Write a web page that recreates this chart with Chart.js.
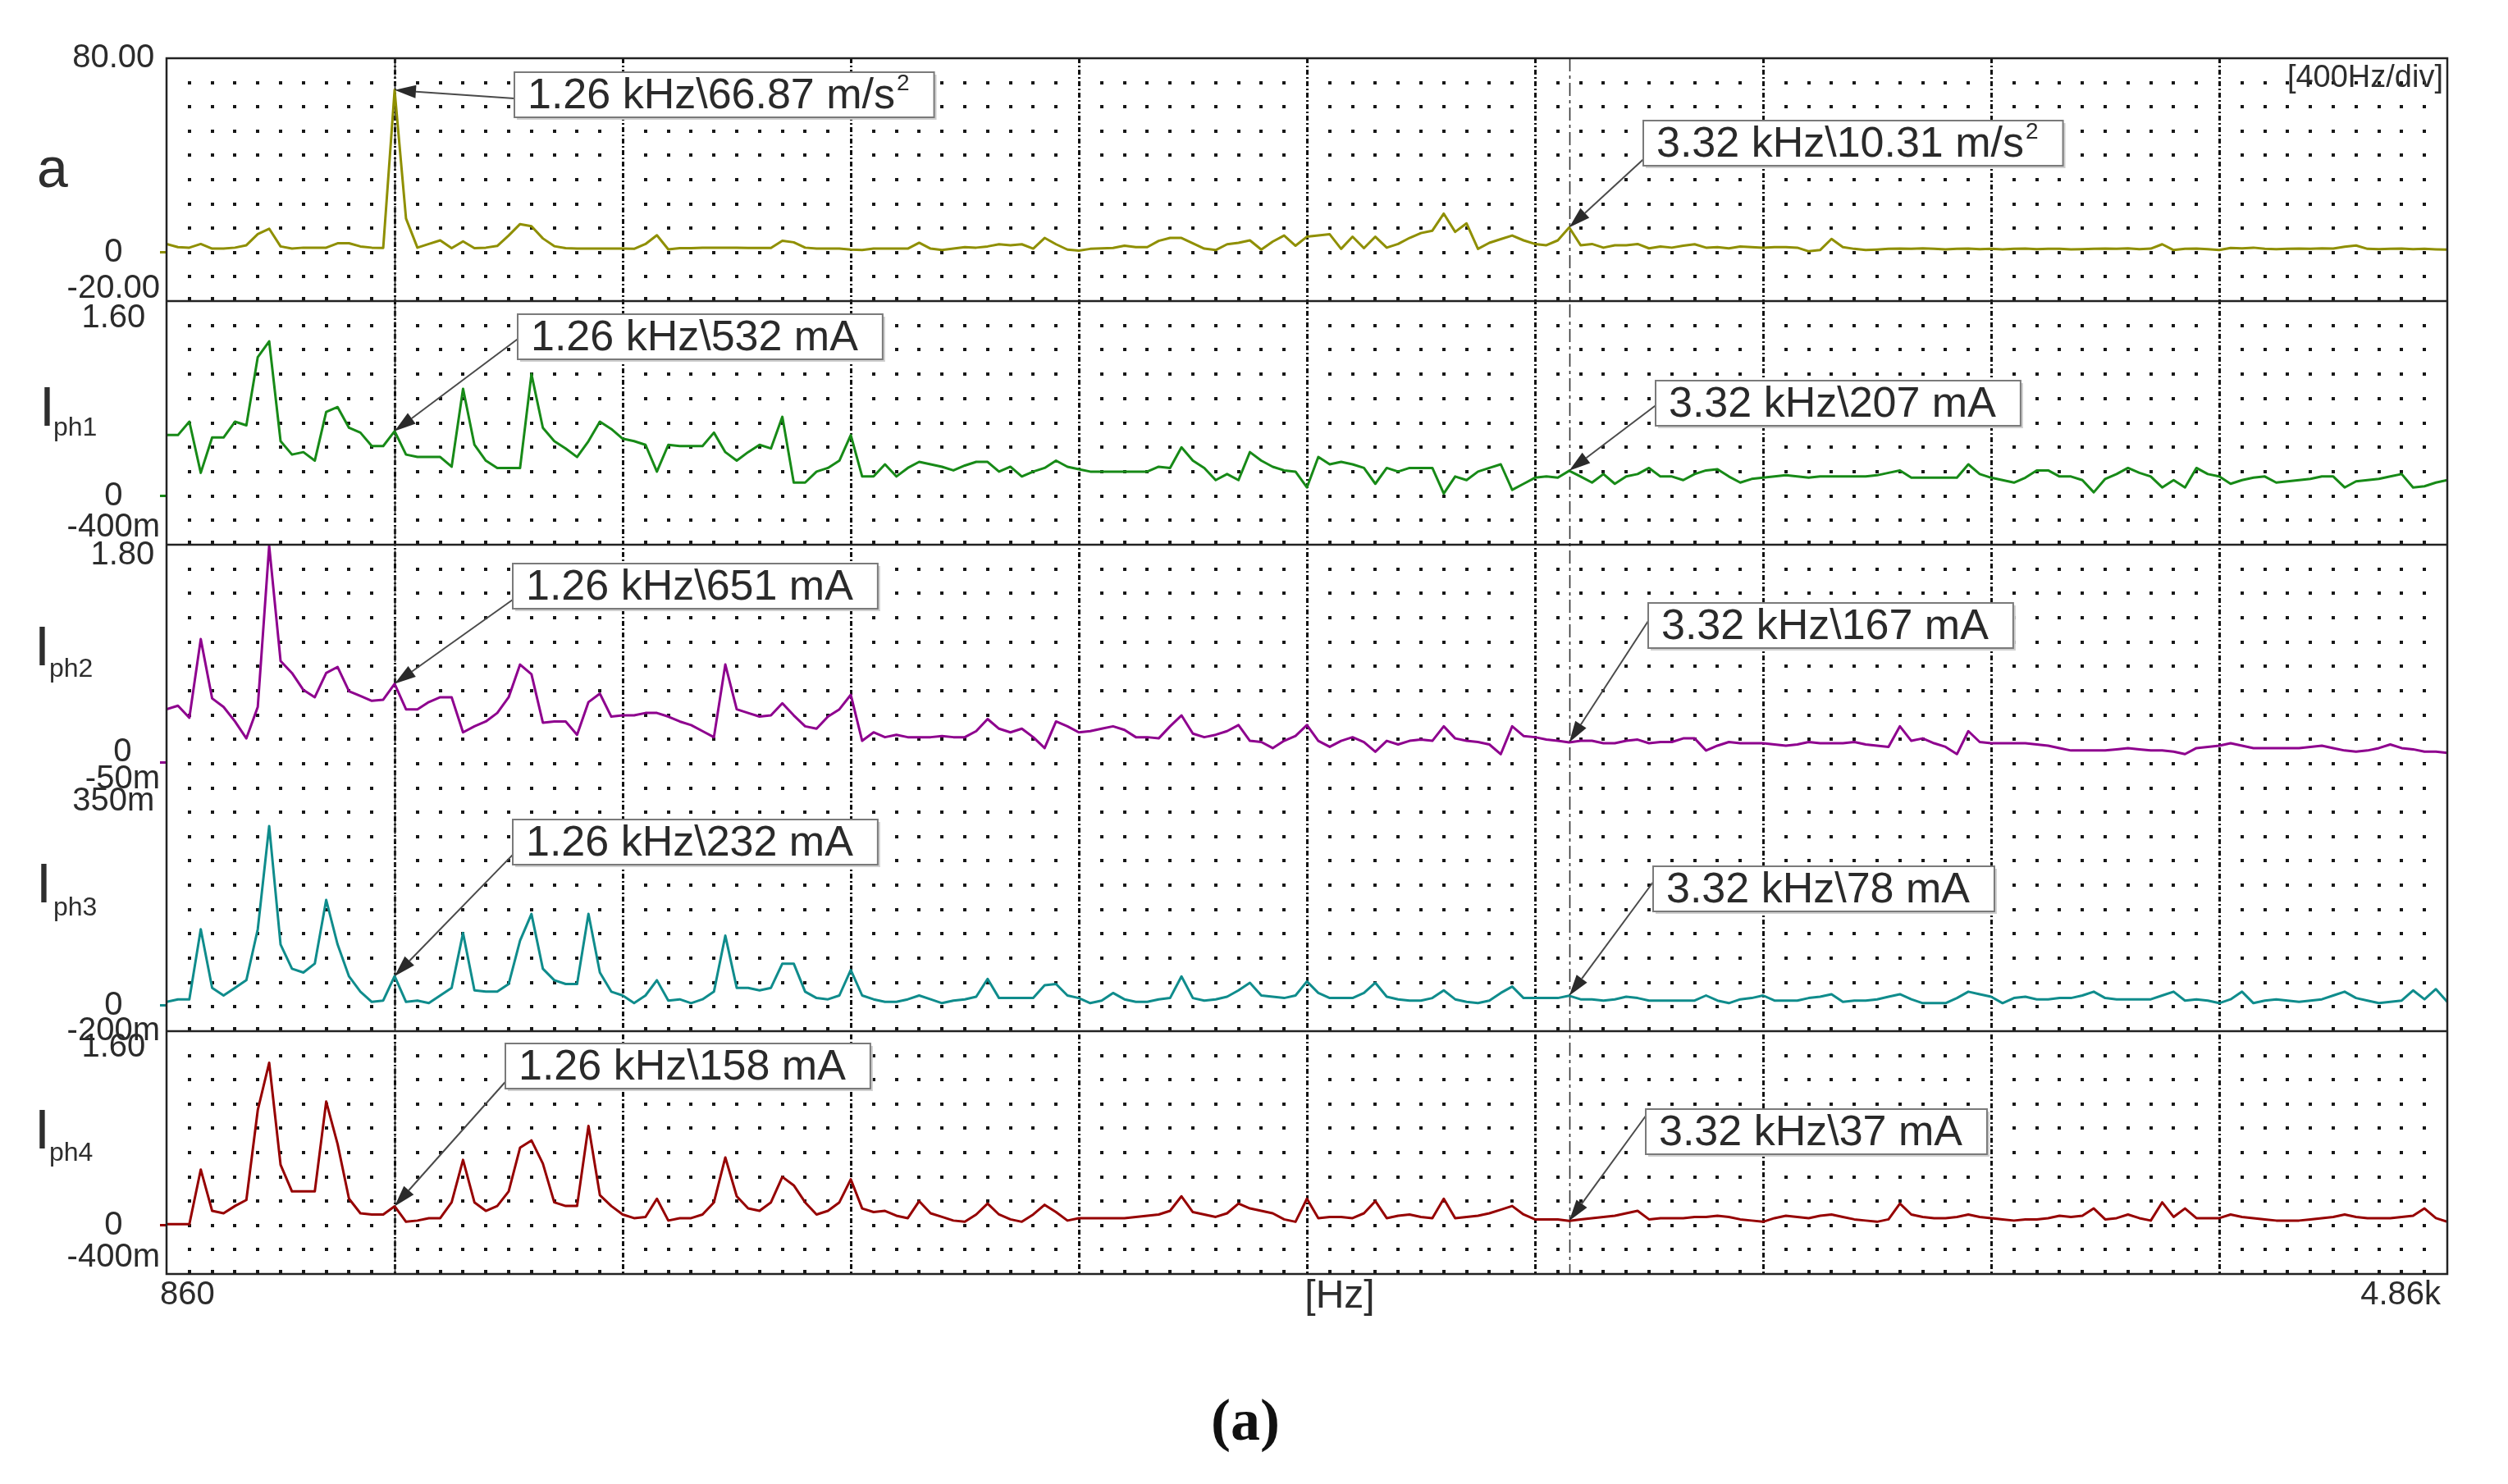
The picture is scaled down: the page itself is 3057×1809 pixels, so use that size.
<!DOCTYPE html>
<html>
<head>
<meta charset="utf-8">
<title>Espectro a, Iph1-Iph4</title>
<script src="https://cdn.jsdelivr.net/npm/chart.js"></script>
<style>
  html, body { margin: 0; padding: 0; background: #fff; }
  #scope { display: block; }
</style>
</head>
<body>
<canvas id="scope" width="3057" height="1809"></canvas>
<script>
// Frecuencias del espectro (pasos de 20 Hz)
const freqHz = [
  860, 880, 900, 920, 940, 960, 980, 1000, 1020, 1040,
  1060, 1080, 1100, 1120, 1140, 1160, 1180, 1200, 1220, 1240,
  1260, 1280, 1300, 1320, 1340, 1360, 1380, 1400, 1420, 1440,
  1460, 1480, 1500, 1520, 1540, 1560, 1580, 1600, 1620, 1640,
  1660, 1680, 1700, 1720, 1740, 1760, 1780, 1800, 1820, 1840,
  1860, 1880, 1900, 1920, 1940, 1960, 1980, 2000, 2020, 2040,
  2060, 2080, 2100, 2120, 2140, 2160, 2180, 2200, 2220, 2240,
  2260, 2280, 2300, 2320, 2340, 2360, 2380, 2400, 2420, 2440,
  2460, 2480, 2500, 2520, 2540, 2560, 2580, 2600, 2620, 2640,
  2660, 2680, 2700, 2720, 2740, 2760, 2780, 2800, 2820, 2840,
  2860, 2880, 2900, 2920, 2940, 2960, 2980, 3000, 3020, 3040,
  3060, 3080, 3100, 3120, 3140, 3160, 3180, 3200, 3220, 3240,
  3260, 3280, 3300, 3320, 3340, 3360, 3380, 3400, 3420, 3440,
  3460, 3480, 3500, 3520, 3540, 3560, 3580, 3600, 3620, 3640,
  3660, 3680, 3700, 3720, 3740, 3760, 3780, 3800, 3820, 3840,
  3860, 3880, 3900, 3920, 3940, 3960, 3980, 4000, 4020, 4040,
  4060, 4080, 4100, 4120, 4140, 4160, 4180, 4200, 4220, 4240,
  4260, 4280, 4300, 4320, 4340, 4360, 4380, 4400, 4420, 4440,
  4460, 4480, 4500, 4520, 4540, 4560, 4580, 4600, 4620, 4640,
  4660, 4680, 4700, 4720, 4740, 4760, 4780, 4800, 4820, 4840,
  4860
];

// Aceleracion a [m/s2]
const accel = [
  3.5, 2.2, 2.0, 3.5, 1.6, 1.6, 2.0, 3.0, 7.6, 9.8,
  2.5, 1.6, 2.0, 2.0, 2.0, 3.8, 3.8, 2.5, 2.0, 1.9,
  66.87, 14.0, 2.0, 3.5, 5.0, 1.8, 4.6, 1.8, 2.0, 2.7,
  7.0, 11.7, 10.8, 5.8, 2.6, 1.8, 1.6, 1.6, 1.6, 1.6,
  1.6, 1.5, 3.5, 7.1, 1.3, 1.8, 1.8, 2.0, 2.0, 2.0,
  2.0, 1.9, 1.9, 1.9, 4.8, 4.2, 2.0, 1.6, 1.6, 1.6,
  1.2, 1.0, 1.6, 1.6, 1.6, 1.6, 4.0, 1.6, 1.0, 1.6,
  2.2, 2.0, 2.5, 3.4, 3.0, 3.4, 1.6, 6.0, 3.4, 1.2,
  0.8, 1.5, 1.7, 1.9, 2.8, 2.2, 2.2, 4.8, 6.0, 6.0,
  3.8, 1.6, 1.0, 3.4, 4.0, 5.0, 1.2, 4.5, 7.0, 2.8,
  6.5, 7.0, 7.5, 1.5, 6.5, 1.8, 6.5, 2.0, 3.5, 6.0,
  8.0, 9.0, 16.0, 8.5, 12.0, 1.5, 4.0, 5.5, 7.0, 5.0,
  3.5, 3.0, 5.0, 10.31, 3.0, 3.5, 2.0, 3.0, 3.0, 3.5,
  1.7, 2.5, 2.0, 2.8, 3.4, 2.0, 2.2, 1.7, 2.5, 2.2,
  2.0, 2.2, 2.2, 2.0, 0.5, 1.0, 5.6, 2.2, 1.5, 1.0,
  1.2, 1.5, 1.6, 1.5, 1.7, 1.5, 1.3, 1.5, 1.6, 1.4,
  1.5, 1.3, 1.5, 1.6, 1.4, 1.5, 1.5, 1.3, 1.4, 1.5,
  1.6, 1.5, 1.7, 1.4, 1.6, 3.4, 1.0, 1.5, 1.6, 1.4,
  1.0, 1.9, 1.7, 2.0, 1.5, 1.4, 1.5, 1.6, 1.5, 1.7,
  1.6, 2.4, 2.9, 1.5, 1.4, 1.5, 1.6, 1.4, 1.5, 1.3,
  1.2
];

// Corrientes de fase [A]
const iph1 = [
  0.50, 0.50, 0.61, 0.19, 0.48, 0.48, 0.61, 0.58, 1.14, 1.27,
  0.45, 0.34, 0.36, 0.29, 0.69, 0.73, 0.56, 0.52, 0.41, 0.41,
  0.532, 0.34, 0.32, 0.32, 0.32, 0.24, 0.88, 0.42, 0.29, 0.23,
  0.23, 0.23, 1.00, 0.56, 0.45, 0.39, 0.32, 0.45, 0.61, 0.55,
  0.47, 0.45, 0.42, 0.20, 0.42, 0.41, 0.41, 0.41, 0.52, 0.36,
  0.29, 0.36, 0.42, 0.39, 0.65, 0.11, 0.11, 0.20, 0.23, 0.29,
  0.50, 0.16, 0.16, 0.26, 0.16, 0.23, 0.28, 0.26, 0.24, 0.21,
  0.25, 0.28, 0.28, 0.20, 0.24, 0.16, 0.20, 0.23, 0.29, 0.24,
  0.22, 0.20, 0.20, 0.20, 0.20, 0.20, 0.20, 0.24, 0.23, 0.40,
  0.29, 0.23, 0.13, 0.18, 0.13, 0.36, 0.29, 0.24, 0.21, 0.20,
  0.07, 0.32, 0.26, 0.28, 0.26, 0.23, 0.10, 0.23, 0.20, 0.23,
  0.23, 0.23, 0.02, 0.16, 0.13, 0.20, 0.23, 0.26, 0.05, 0.10,
  0.15, 0.16, 0.15, 0.207, 0.16, 0.11, 0.18, 0.10, 0.16, 0.18,
  0.23, 0.16, 0.16, 0.13, 0.18, 0.21, 0.22, 0.16, 0.11, 0.14,
  0.15, 0.16, 0.17, 0.16, 0.15, 0.16, 0.16, 0.16, 0.16, 0.16,
  0.17, 0.19, 0.21, 0.15, 0.15, 0.15, 0.15, 0.15, 0.26, 0.18,
  0.15, 0.13, 0.11, 0.15, 0.21, 0.21, 0.16, 0.16, 0.13, 0.03,
  0.14, 0.18, 0.23, 0.19, 0.16, 0.07, 0.13, 0.07, 0.23, 0.18,
  0.16, 0.10, 0.13, 0.15, 0.16, 0.11, 0.12, 0.13, 0.14, 0.16,
  0.16, 0.07, 0.12, 0.13, 0.14, 0.16, 0.18, 0.07, 0.08, 0.11,
  0.13
];

const iph2 = [
  0.44, 0.47, 0.37, 1.02, 0.53, 0.46, 0.34, 0.20, 0.46, 1.79,
  0.84, 0.74, 0.60, 0.54, 0.74, 0.79, 0.59, 0.55, 0.51, 0.52,
  0.651, 0.44, 0.44, 0.50, 0.54, 0.54, 0.25, 0.30, 0.34, 0.41,
  0.54, 0.81, 0.73, 0.33, 0.34, 0.34, 0.23, 0.50, 0.57, 0.38,
  0.39, 0.39, 0.41, 0.41, 0.38, 0.34, 0.31, 0.26, 0.21, 0.81,
  0.44, 0.41, 0.38, 0.39, 0.49, 0.39, 0.30, 0.28, 0.38, 0.44,
  0.56, 0.18, 0.25, 0.21, 0.23, 0.21, 0.21, 0.21, 0.22, 0.21,
  0.21, 0.26, 0.36, 0.28, 0.25, 0.28, 0.21, 0.12, 0.34, 0.30,
  0.25, 0.26, 0.28, 0.30, 0.27, 0.21, 0.21, 0.20, 0.30, 0.39,
  0.24, 0.21, 0.23, 0.26, 0.31, 0.18, 0.17, 0.12, 0.18, 0.22,
  0.31, 0.18, 0.13, 0.18, 0.21, 0.17, 0.09, 0.18, 0.15, 0.18,
  0.19, 0.18, 0.30, 0.20, 0.18, 0.17, 0.15, 0.07, 0.30, 0.22,
  0.21, 0.19, 0.18, 0.167, 0.18, 0.18, 0.16, 0.16, 0.18, 0.19,
  0.16, 0.17, 0.17, 0.20, 0.20, 0.10, 0.14, 0.17, 0.16, 0.16,
  0.16, 0.15, 0.14, 0.15, 0.17, 0.16, 0.16, 0.16, 0.17, 0.15,
  0.14, 0.13, 0.30, 0.18, 0.20, 0.16, 0.13, 0.07, 0.26, 0.17,
  0.16, 0.16, 0.16, 0.16, 0.15, 0.14, 0.12, 0.10, 0.10, 0.10,
  0.10, 0.11, 0.12, 0.11, 0.10, 0.10, 0.09, 0.07, 0.12, 0.13,
  0.14, 0.16, 0.14, 0.12, 0.12, 0.12, 0.12, 0.12, 0.13, 0.14,
  0.12, 0.10, 0.09, 0.10, 0.12, 0.15, 0.12, 0.11, 0.09, 0.09,
  0.08
];

const iph3 = [
  0.03, 0.05, 0.05, 0.60, 0.14, 0.08, 0.14, 0.20, 0.60, 1.41,
  0.48, 0.29, 0.26, 0.33, 0.83, 0.48, 0.23, 0.11, 0.03, 0.04,
  0.232, 0.03, 0.04, 0.02, 0.08, 0.14, 0.57, 0.12, 0.11, 0.11,
  0.17, 0.51, 0.72, 0.29, 0.20, 0.17, 0.17, 0.72, 0.26, 0.11,
  0.08, 0.02, 0.08, 0.20, 0.04, 0.05, 0.02, 0.05, 0.11, 0.55,
  0.14, 0.14, 0.12, 0.14, 0.33, 0.33, 0.11, 0.06, 0.05, 0.08,
  0.28, 0.08, 0.05, 0.03, 0.03, 0.05, 0.08, 0.05, 0.02, 0.04,
  0.05, 0.07, 0.21, 0.06, 0.06, 0.06, 0.06, 0.16, 0.17, 0.08,
  0.06, 0.02, 0.04, 0.10, 0.05, 0.03, 0.03, 0.05, 0.06, 0.23,
  0.06, 0.04, 0.05, 0.07, 0.12, 0.18, 0.08, 0.07, 0.06, 0.08,
  0.19, 0.10, 0.06, 0.06, 0.06, 0.10, 0.18, 0.07, 0.05, 0.04,
  0.04, 0.06, 0.12, 0.05, 0.03, 0.02, 0.04, 0.10, 0.15, 0.06,
  0.06, 0.06, 0.06, 0.078, 0.05, 0.05, 0.04, 0.05, 0.07, 0.06,
  0.04, 0.04, 0.04, 0.04, 0.04, 0.08, 0.04, 0.02, 0.05, 0.06,
  0.08, 0.04, 0.04, 0.04, 0.06, 0.07, 0.09, 0.03, 0.04, 0.04,
  0.05, 0.07, 0.09, 0.05, 0.02, 0.02, 0.02, 0.06, 0.11, 0.09,
  0.07, 0.02, 0.06, 0.07, 0.05, 0.05, 0.06, 0.06, 0.08, 0.11,
  0.06, 0.05, 0.05, 0.05, 0.05, 0.08, 0.11, 0.04, 0.05, 0.04,
  0.02, 0.05, 0.11, 0.02, 0.04, 0.05, 0.04, 0.03, 0.04, 0.05,
  0.08, 0.11, 0.06, 0.04, 0.02, 0.03, 0.04, 0.12, 0.05, 0.13,
  0.03
];

const iph4 = [
  0.01, 0.01, 0.01, 0.46, 0.12, 0.10, 0.16, 0.21, 0.95, 1.34,
  0.50, 0.28, 0.28, 0.28, 1.02, 0.67, 0.22, 0.10, 0.09, 0.09,
  0.158, 0.03, 0.04, 0.06, 0.06, 0.19, 0.54, 0.19, 0.12, 0.16,
  0.28, 0.64, 0.70, 0.51, 0.19, 0.16, 0.16, 0.82, 0.25, 0.16,
  0.09, 0.06, 0.07, 0.22, 0.04, 0.06, 0.06, 0.09, 0.19, 0.56,
  0.24, 0.14, 0.12, 0.19, 0.40, 0.33, 0.19, 0.09, 0.12, 0.19,
  0.38, 0.14, 0.11, 0.12, 0.08, 0.06, 0.20, 0.10, 0.07, 0.04,
  0.03, 0.09, 0.18, 0.09, 0.05, 0.03, 0.09, 0.17, 0.11, 0.04,
  0.06, 0.06, 0.06, 0.06, 0.06, 0.07, 0.08, 0.09, 0.12, 0.24,
  0.11, 0.09, 0.07, 0.10, 0.18, 0.14, 0.12, 0.10, 0.05, 0.03,
  0.22, 0.06, 0.07, 0.07, 0.06, 0.10, 0.20, 0.06, 0.08, 0.09,
  0.07, 0.06, 0.22, 0.06, 0.07, 0.08, 0.10, 0.13, 0.16, 0.09,
  0.05, 0.05, 0.05, 0.037, 0.05, 0.06, 0.07, 0.08, 0.10, 0.12,
  0.05, 0.06, 0.06, 0.06, 0.07, 0.07, 0.08, 0.07, 0.05, 0.04,
  0.03, 0.06, 0.08, 0.07, 0.06, 0.08, 0.09, 0.07, 0.05, 0.04,
  0.03, 0.05, 0.18, 0.09, 0.07, 0.06, 0.06, 0.07, 0.09, 0.07,
  0.06, 0.05, 0.04, 0.05, 0.05, 0.06, 0.08, 0.07, 0.08, 0.14,
  0.05, 0.06, 0.09, 0.06, 0.04, 0.19, 0.07, 0.14, 0.06, 0.06,
  0.06, 0.09, 0.07, 0.06, 0.05, 0.04, 0.04, 0.04, 0.05, 0.06,
  0.07, 0.09, 0.07, 0.06, 0.06, 0.06, 0.07, 0.08, 0.14, 0.06,
  0.03
];

// Cursores y sus lecturas
const cursorHz = [1260, 3320];
const cursorText = [
  ['1.26 kHz\\66.87 m/s', '3.32 kHz\\10.31 m/s'],
  ['1.26 kHz\\532 mA', '3.32 kHz\\207 mA'],
  ['1.26 kHz\\651 mA', '3.32 kHz\\167 mA'],
  ['1.26 kHz\\232 mA', '3.32 kHz\\78 mA'],
  ['1.26 kHz\\158 mA', '3.32 kHz\\37 mA']
];
const cursorSup = ['2', '', '', '', ''];
const cursorVal = [[66.87, 10.31], [0.532, 0.207], [0.651, 0.167], [0.232, 0.078], [0.158, 0.037]];

// Etiquetas de los ejes tal como las imprime el equipo
const accelTicks = [-20, 0, 80];
const accelTickText = ['-20.00', '0', '80.00'];
const iph1Ticks = [-0.4, 0, 1.6];
const iph1TickText = ['-400m', '0', '1.60'];
const iph2Ticks = [-0.05, 0, 1.8];
const iph2TickText = ['-50m', '0', '1.80'];
const iph3Ticks = [-0.2, 0, 1.86];
const iph3TickText = ['-200m', '0', '350m'];
const iph4Ticks = [-0.4, 0, 1.6];
const iph4TickText = ['-400m', '0', '1.60'];
const xTicks = [860, 4860];
const xTickText = ['860', '4.86k'];

const FONT = '"Liberation Sans", Arial, sans-serif';
Chart.defaults.font.family = FONT;

const channels = [
  { name: 'a', sub: '', data: accel, axis: 'yA', color: '#8f8f00' },
  { name: 'I', sub: 'ph1', data: iph1, axis: 'yI1', color: '#178a17' },
  { name: 'I', sub: 'ph2', data: iph2, axis: 'yI2', color: '#8e008e' },
  { name: 'I', sub: 'ph3', data: iph3, axis: 'yI3', color: '#0f8c8c' },
  { name: 'I', sub: 'ph4', data: iph4, axis: 'yI4', color: '#960000' }
];

// Un eje y apilado por canal
function channelAxis(ticks, texts, place, lineH, color, stackWeight, weight) {
  return {
    type: 'linear',
    position: 'left',
    stack: 'scope',
    stackWeight: stackWeight,
    weight: weight,
    min: ticks[0],
    max: ticks[ticks.length - 1],
    afterBuildTicks: s => { s.ticks = ticks.map(v => ({ value: v })); },
    afterFit: s => {
      s.width = 140;
      s.paddingTop = 0;
      s.paddingBottom = 0;
    },
    border: { display: false },
    grid: {
      drawOnChartArea: false,
      drawTicks: true,
      tickLength: 8,
      tickWidth: 3,
      tickColor: c => (c.tick && c.tick.value === 0) ? color : 'rgba(0,0,0,0)'
    },
    ticks: {
      autoSkip: false,
      padding: 0,
      crossAlign: 'center',
      color: '#2b2b2b',
      font: { size: 40, lineHeight: lineH + 'px' },
      callback: (v, i) => {
        const t = texts[i];
        if (place[i] === 'down') return ['', t];
        if (place[i] === 'down2') return ['', '', t];
        if (place[i] === 'up') return [t, ''];
        return t;
      }
    }
  };
}

// Posicion de las cajas de los cursores [izq, arriba, salida de la flecha]
const calloutBox = [
  [[627, 88, 0.58], [2003, 147, 0.86]],
  [[631, 383, 0.55], [2018, 464, 0.55]],
  [[625, 687, 0.80], [2009, 735, 0.40]],
  [[625, 999, 0.78], [2015, 1056, 0.35]],
  [[616, 1272, 0.85], [2006, 1352, 0.15]]
];
const titleSpot = [[45, 228], [48, 519, 65, 531], [42, 811, 60, 825], [44, 1100, 65, 1116], [42, 1400, 60, 1415]];

function drawArrow(ctx, x0, y0, x1, y1) {
  const ang = Math.atan2(y1 - y0, x1 - x0);
  const len = 26, half = 8;
  const bx = x1 - len * Math.cos(ang), by = y1 - len * Math.sin(ang);
  ctx.strokeStyle = '#4a4a4a';
  ctx.lineWidth = 2;
  ctx.beginPath();
  ctx.moveTo(x0, y0);
  ctx.lineTo(bx, by);
  ctx.stroke();
  ctx.fillStyle = '#2a2a2a';
  ctx.beginPath();
  ctx.moveTo(x1, y1);
  ctx.lineTo(bx + half * Math.sin(ang), by - half * Math.cos(ang));
  ctx.lineTo(bx - half * Math.sin(ang), by + half * Math.cos(ang));
  ctx.closePath();
  ctx.fill();
}

const scopeDecor = {
  id: 'scopeDecor',
  beforeDatasetsDraw(chart) {
    const { ctx, chartArea: area, scales } = chart;
    const x = scales.x;
    const boxes = [
      [scales.yA.top, scales.yA.bottom, 10],
      [scales.yI1.top, scales.yI1.bottom, 10],
      [scales.yI2.top, scales.yI3.bottom, 20],
      [scales.yI4.top, scales.yI4.bottom, 10]
    ];
    ctx.save();
    // Rejilla de puntos, 10 por division
    ctx.fillStyle = '#181818';
    boxes.forEach(([top, bottom, rows]) => {
      const step = (bottom - top) / rows;
      for (let r = 1; r <= rows; r++) {
        const y = Math.round(Math.min(top + r * step, bottom - 3));
        for (let j = 1; j < 100; j++) {
          if (j % 10 === 0) continue;
          const px = Math.round(x.getPixelForValue(x.min + j * 40));
          ctx.fillRect(px - 2, y - 2, 4, 4);
        }
      }
    });
    // Lineas de division (400 Hz/div)
    ctx.strokeStyle = '#111';
    ctx.lineWidth = 3;
    ctx.setLineDash([6, 3, 2, 3]);
    for (let k = 1; k < 10; k++) {
      const px = Math.round(x.getPixelForValue(x.min + k * 400)) + 0.5;
      ctx.beginPath();
      ctx.moveTo(px, area.top);
      ctx.lineTo(px, area.bottom);
      ctx.stroke();
    }
    // Cursores
    ctx.strokeStyle = '#333';
    ctx.lineWidth = 1.6;
    ctx.setLineDash([16, 5, 4, 5]);
    cursorHz.forEach(f => {
      const px = Math.round(x.getPixelForValue(f)) + 0.5;
      ctx.beginPath();
      ctx.moveTo(px, area.top);
      ctx.lineTo(px, area.bottom);
      ctx.stroke();
    });
    ctx.restore();
  },
  afterDatasetsDraw(chart) {
    const { ctx, chartArea: area, scales } = chart;
    ctx.save();
    ctx.strokeStyle = '#222';
    ctx.lineWidth = 2.5;
    ctx.setLineDash([]);
    ctx.strokeRect(area.left, area.top, area.right - area.left, area.bottom - area.top);
    [scales.yA.bottom, scales.yI1.bottom, scales.yI3.bottom].forEach(y => {
      ctx.beginPath();
      ctx.moveTo(area.left, y);
      ctx.lineTo(area.right, y);
      ctx.stroke();
    });
    ctx.restore();
  },
  afterDraw(chart) {
    const { ctx, chartArea: area, scales } = chart;
    const mainFont = '52px ' + FONT;
    const supFont = '28px ' + FONT;
    ctx.save();
    ctx.textAlign = 'left';
    ctx.textBaseline = 'middle';
    // Cajas de lectura de cursor con flecha
    channels.forEach((ch, p) => {
      cursorHz.forEach((f, m) => {
        const [bx, by, frac] = calloutBox[p][m];
        const text = cursorText[p][m];
        const sup = cursorSup[p];
        ctx.font = mainFont;
        const tw = ctx.measureText(text).width;
        ctx.font = supFont;
        const sw = sup ? ctx.measureText(sup).width + 2 : 0;
        const bw = tw + sw + 46, bh = 55;
        const tipX = scales.x.getPixelForValue(f);
        const tipY = scales[ch.axis].getPixelForValue(cursorVal[p][m]);
        drawArrow(ctx, bx, by + frac * bh, tipX, tipY);
        ctx.fillStyle = '#cfcfcf';
        ctx.fillRect(bx + 3, by + 3, bw, bh);
        ctx.fillStyle = '#fff';
        ctx.fillRect(bx, by, bw, bh);
        ctx.strokeStyle = '#7a7a7a';
        ctx.lineWidth = 2;
        ctx.strokeRect(bx, by, bw, bh);
        ctx.fillStyle = '#2a2a2a';
        ctx.font = mainFont;
        ctx.fillText(text, bx + 16, by + bh / 2 + 2);
        if (sup) {
          ctx.font = supFont;
          ctx.fillText(sup, bx + 18 + tw, by + 14);
        }
      });
    });
    // Nombres de los canales
    ctx.fillStyle = '#2e2e2e';
    ctx.textBaseline = 'alphabetic';
    channels.forEach((ch, p) => {
      const s = titleSpot[p];
      ctx.font = '68px ' + FONT;
      ctx.fillText(ch.name, s[0], s[1]);
      if (ch.sub) {
        ctx.font = '32px ' + FONT;
        ctx.fillText(ch.sub, s[2], s[3]);
      }
    });
    // Textos sueltos del equipo
    ctx.textBaseline = 'middle';
    ctx.font = '38px ' + FONT;
    ctx.textAlign = 'right';
    ctx.fillText('[400Hz/div]', area.right - 5, area.top + 25);
    ctx.font = '48px ' + FONT;
    ctx.textAlign = 'center';
    ctx.fillText('[Hz]', 1633, 1581);
    ctx.fillStyle = '#111';
    ctx.font = 'bold 72px "Liberation Serif", "DejaVu Serif", serif';
    ctx.fillText('(a)', 1518, 1736);
    ctx.restore();
  }
};

new Chart(document.getElementById('scope'), {
  type: 'line',
  data: {
    datasets: channels.map(ch => ({
      label: ch.sub ? ch.name + ch.sub : ch.name,
      data: freqHz.map((f, i) => ({ x: f, y: ch.data[i] })),
      xAxisID: 'x',
      yAxisID: ch.axis,
      borderColor: ch.color,
      borderWidth: 3,
      borderJoinStyle: 'round',
      pointRadius: 0,
      tension: 0,
      fill: false
    }))
  },
  options: {
    responsive: false,
    maintainAspectRatio: false,
    devicePixelRatio: 1,
    animation: false,
    events: [],
    layout: { padding: { top: 71, left: 63, right: 74, bottom: 0 } },
    plugins: { legend: { display: false }, tooltip: { enabled: false } },
    scales: {
      x: {
        type: 'linear',
        position: 'bottom',
        min: 860,
        max: 4860,
        afterBuildTicks: s => { s.ticks = xTicks.map(v => ({ value: v })); },
        afterFit: s => { s.height = 256; },
        border: { display: false },
        grid: { display: false, drawTicks: false },
        ticks: {
          autoSkip: false,
          maxRotation: 0,
          align: 'inner',
          labelOffset: -8,
          padding: 2,
          color: '#2b2b2b',
          font: { size: 40 },
          callback: (v, i) => xTickText[i]
        }
      },
      yA: channelAxis(accelTicks, accelTickText, ['up', 'mid', 'mid'], 30, channels[0].color, 296, 5),
      yI1: channelAxis(iph1Ticks, iph1TickText, ['up', 'mid', 'down'], 42, channels[1].color, 297, 4),
      yI2: channelAxis(iph2Ticks, iph2TickText, ['down', 'up', 'down'], 26, channels[2].color, 273, 3),
      yI3: channelAxis(iph3Ticks, iph3TickText, ['mid', 'mid', 'down2'], 40, channels[3].color, 320, 2),
      yI4: channelAxis(iph4Ticks, iph4TickText, ['up', 'mid', 'down'], 40, channels[4].color, 296, 1)
    }
  },
  plugins: [scopeDecor]
});
</script>
</body>
</html>
